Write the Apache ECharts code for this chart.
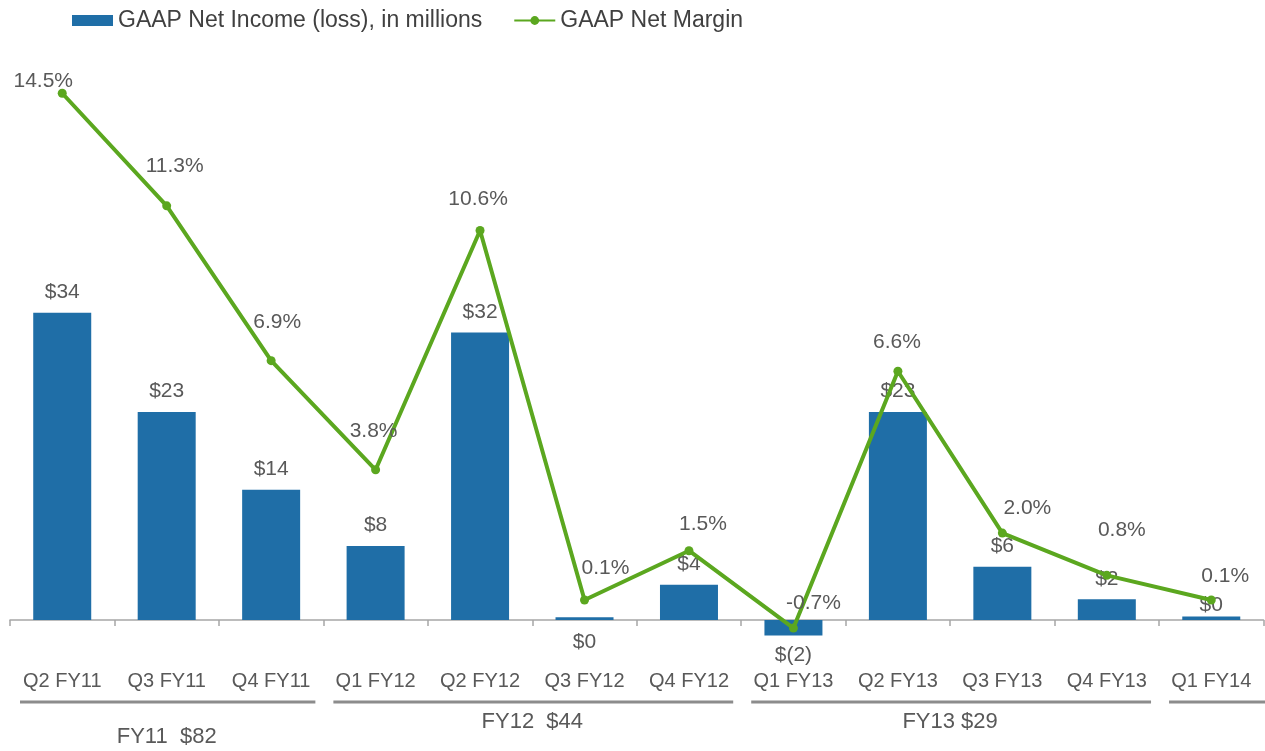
<!DOCTYPE html>
<html>
<head>
<meta charset="utf-8">
<title>GAAP Net Income and Net Margin</title>
<script src="https://cdn.jsdelivr.net/npm/echarts@6/dist/echarts.min.js"></script>
<style>
  html, body { margin: 0; padding: 0; background: #fff; }
  #main { width: 1265px; height: 751px; }
</style>
</head>
<body>
<div id="main"></div>
<script>
// quarters on the x axis
var quarters = ['Q2 FY11', 'Q3 FY11', 'Q4 FY11', 'Q1 FY12', 'Q2 FY12', 'Q3 FY12',
                'Q4 FY12', 'Q1 FY13', 'Q2 FY13', 'Q3 FY13', 'Q4 FY13', 'Q1 FY14'];
// GAAP net income (loss), $ millions
var netIncome = [34, 23, 14.4, 8.2, 31.8, 0.3, 3.9, -1.7, 23, 5.9, 2.3, 0.4];
// GAAP net margin, %
var netMargin = [14.5, 11.3, 6.9, 3.8, 10.6, 0.1, 1.5, -0.7, 6.6, 2.0, 0.8, 0.1];
// fiscal year groups under the axis
var fiscalYears  = ['FY11', 'FY12', 'FY13', 'FY14'];
var fiscalTotals = ['$82', '$44', '$29', ''];
var fiscalFirst  = [0, 3, 7, 11];
var fiscalLast   = [2, 6, 10, 11];

var BAR_NAME = 'GAAP Net Income (loss), in millions';
var LINE_NAME = 'GAAP Net Margin';
var TXT = '#595959';
var FONT = 'Liberation Sans, Arial, sans-serif';

// label placement (hand placed in the original slide)
var marginLabelShift = [[-19,-12],[8,-40],[6,-38],[-2,-39],[-2,-31],[21,-32],
                        [14,-27],[20,-25],[-1,-29],[25,-25],[15,-45],[14,-24]];
var fiscalSep = ['  ', '  ', ' ', ''];
var fiscalLabelY = [737, 722, 722, 722];

function moneyText(v) {
    var r = Math.round(Math.abs(v));
    return v < 0 ? '$(' + r + ')' : '$' + r;
}

var barData = netIncome.map(function (v, i) {
    var item = { value: v };
    if (v < 0) {
        item.label = { position: 'bottom', distance: 9 };
    } else if (i == 5) {
        item.label = { position: 'bottom', distance: 12 };
    } else if (i == 11) {
        item.label = { distance: 1 };
    }
    return item;
});

var lineData = netMargin.map(function (v, i) {
    return { value: v, label: { offset: marginLabelShift[i] } };
});

var chart = echarts.init(document.getElementById('main'));

var option = {
    animation: false,
    textStyle: { fontFamily: FONT },
    legend: {
        left: 67,
        top: 4,
        itemWidth: 41,
        itemHeight: 11,
        itemGap: 31,
        textStyle: { fontSize: 23, color: '#404040', fontFamily: FONT },
        data: [{ name: BAR_NAME, icon: 'rect' }, { name: LINE_NAME }]
    },
    grid: { left: 10, right: 1.5, top: 60, bottom: 91 },
    xAxis: {
        type: 'category',
        data: quarters,
        axisLine: { onZero: true, onZeroAxisIndex: 0, lineStyle: { color: '#a6a6a6', width: 1.5 } },
        axisTick: { show: true, length: 6, lineStyle: { color: '#a6a6a6', width: 1.5 } },
        axisLabel: { interval: 0, margin: 11, fontSize: 20, color: TXT, fontFamily: FONT },
        splitLine: { show: false }
    },
    yAxis: [
        { type: 'value', show: false, min: -4.42, max: 61.95, splitLine: { show: false } },
        { type: 'value', show: false, min: -1.606, max: 15.445, splitLine: { show: false } }
    ],
    series: [
        {
            name: BAR_NAME,
            type: 'bar',
            yAxisIndex: 0,
            barWidth: 58,
            itemStyle: { color: '#1f6ea7' },
            label: {
                show: true,
                position: 'top',
                distance: 10,
                fontSize: 21,
                color: TXT,
                fontFamily: FONT,
                formatter: function (p) { return moneyText(p.value); }
            },
            data: barData
        },
        {
            name: LINE_NAME,
            type: 'line',
            yAxisIndex: 1,
            symbol: 'circle',
            symbolSize: 9,
            lineStyle: { color: '#5ba71f', width: 4 },
            itemStyle: { color: '#5ba71f' },
            label: {
                show: true,
                position: 'inside',
                fontSize: 21,
                color: TXT,
                fontFamily: FONT,
                formatter: function (p) { return p.value.toFixed(1) + '%'; }
            },
            data: lineData
        }
    ]
};

chart.setOption(option);

// fiscal year brackets under the quarter labels
function addFiscalGroups() {
    var x0 = chart.convertToPixel({ xAxisIndex: 0 }, 0);
    var x1 = chart.convertToPixel({ xAxisIndex: 0 }, 1);
    var half = (x1 - x0) / 2;
    var els = [];
    for (var g = 0; g < fiscalYears.length; g++) {
        var left = chart.convertToPixel({ xAxisIndex: 0 }, fiscalFirst[g]) - half;
        var right = chart.convertToPixel({ xAxisIndex: 0 }, fiscalLast[g]) + half;
        els.push({
            type: 'line',
            shape: { x1: left + 10, y1: 702, x2: g == fiscalYears.length - 1 ? 1265 : right - 8, y2: 702 },
            style: { stroke: '#8c8c8c', lineWidth: 3 },
            silent: true
        });
        if (fiscalTotals[g]) {
            els.push({
                type: 'text',
                x: (left + right) / 2,
                y: fiscalLabelY[g],
                style: {
                    text: fiscalYears[g] + fiscalSep[g] + fiscalTotals[g],
                    fill: TXT,
                    font: '22px ' + FONT,
                    align: 'center',
                    verticalAlign: 'middle'
                },
                silent: true
            });
        }
    }
    chart.setOption({ graphic: els });
}
addFiscalGroups();
</script>
</body>
</html>
